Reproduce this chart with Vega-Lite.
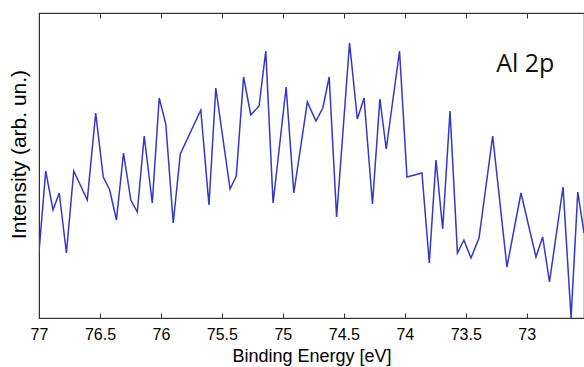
{
  "$schema": "https://vega.github.io/schema/vega-lite/v6.json",
  "width": 545,
  "height": 305,
  "autosize": {"type": "none"},
  "padding": {"left": 39, "top": 13, "right": 0, "bottom": 49},
  "background": "white",
  "config": {
    "view": {"stroke": "#555", "strokeWidth": 1.2},
    "font": "Liberation Sans",
    "axis": {"domainColor": "#333", "tickColor": "#333", "labelColor": "#000", "titleColor": "#000", "grid": false, "titleFontWeight": "normal"}
  },
  "layer": [
    {
      "data": {"values": [
        {"e": 77.000, "i": 66}, {"e": 76.945, "i": 147}, {"e": 76.885, "i": 108}, {"e": 76.834, "i": 125},
        {"e": 76.775, "i": 65}, {"e": 76.715, "i": 147}, {"e": 76.604, "i": 118}, {"e": 76.535, "i": 205},
        {"e": 76.473, "i": 141}, {"e": 76.420, "i": 128}, {"e": 76.365, "i": 98}, {"e": 76.307, "i": 165},
        {"e": 76.247, "i": 118}, {"e": 76.194, "i": 106}, {"e": 76.137, "i": 182}, {"e": 76.071, "i": 115},
        {"e": 76.014, "i": 220}, {"e": 75.960, "i": 194}, {"e": 75.899, "i": 95}, {"e": 75.841, "i": 164},
        {"e": 75.673, "i": 208}, {"e": 75.606, "i": 113}, {"e": 75.550, "i": 230}, {"e": 75.433, "i": 129},
        {"e": 75.382, "i": 142}, {"e": 75.322, "i": 241}, {"e": 75.263, "i": 203}, {"e": 75.195, "i": 212},
        {"e": 75.140, "i": 267}, {"e": 75.080, "i": 115}, {"e": 74.973, "i": 231}, {"e": 74.910, "i": 125},
        {"e": 74.799, "i": 216}, {"e": 74.729, "i": 197}, {"e": 74.672, "i": 210}, {"e": 74.620, "i": 241},
        {"e": 74.559, "i": 101}, {"e": 74.453, "i": 275}, {"e": 74.389, "i": 199}, {"e": 74.334, "i": 220},
        {"e": 74.265, "i": 114}, {"e": 74.204, "i": 219}, {"e": 74.152, "i": 169}, {"e": 74.043, "i": 267},
        {"e": 73.982, "i": 141}, {"e": 73.859, "i": 145}, {"e": 73.799, "i": 55}, {"e": 73.744, "i": 158},
        {"e": 73.689, "i": 89}, {"e": 73.629, "i": 207}, {"e": 73.568, "i": 65}, {"e": 73.515, "i": 78},
        {"e": 73.457, "i": 60}, {"e": 73.391, "i": 80}, {"e": 73.279, "i": 182}, {"e": 73.162, "i": 51},
        {"e": 73.047, "i": 125}, {"e": 72.924, "i": 61}, {"e": 72.869, "i": 81}, {"e": 72.813, "i": 36},
        {"e": 72.702, "i": 131}, {"e": 72.636, "i": 0}, {"e": 72.581, "i": 126}, {"e": 72.530, "i": 85}
      ]},
      "mark": {"type": "line", "color": "#3636c8", "strokeWidth": 1.5, "clip": true},
      "encoding": {
        "x": {"field": "e", "type": "quantitative",
          "scale": {"domain": [72.53, 77], "reverse": true, "nice": false, "zero": false},
          "axis": {"orient": "bottom", "values": [73, 73.5, 74, 74.5, 75, 75.5, 76, 76.5, 77], "format": "~g",
            "title": "Binding Energy [eV]", "titleFontSize": 18, "titlePadding": 5,
            "labelFontSize": 16, "labelPadding": 13, "tickSize": -5, "labelFlush": false, "labelOverlap": false}},
        "y": {"field": "i", "type": "quantitative",
          "scale": {"domain": [0, 305], "nice": false, "zero": false},
          "axis": {"title": "Intensity (arb. un.)", "titleFontSize": 21, "labels": false, "ticks": false,
            "titleX": -20, "titleY": 141, "titleAlign": "center", "titleBaseline": "middle", "titleAngle": -90}}
      }
    },
    {
      "data": {"values": [{"e": 73.25, "i": 246, "label": "Al 2p"}]},
      "mark": {"type": "text", "align": "left", "baseline": "alphabetic", "font": "Open Sans", "fontSize": 25, "color": "#111"},
      "encoding": {
        "x": {"field": "e", "type": "quantitative",
          "axis": {"orient": "top", "values": [73, 73.5, 74, 74.5, 75, 75.5, 76, 76.5, 77], "labels": false, "title": null, "tickSize": -5}},
        "y": {"field": "i", "type": "quantitative"},
        "text": {"field": "label"}
      }
    }
  ],
  "resolve": {"axis": {"x": "independent"}}
}
